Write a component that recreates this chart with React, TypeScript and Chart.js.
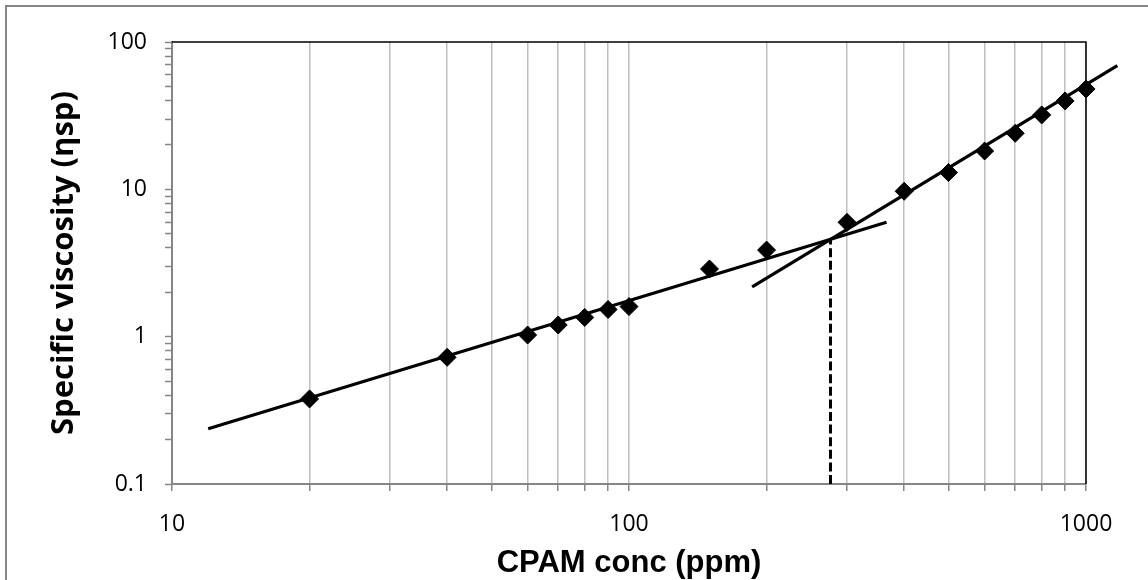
import React, { useEffect, useRef } from "react";
import { Chart, registerables } from "chart.js";

Chart.register(...registerables);

// Measured data
const concentrations = [20, 40, 60, 70, 80, 90, 100, 150, 200, 300, 400, 500, 600, 700, 800, 900, 1000];
const viscosities = [0.378, 0.724, 1.026, 1.2, 1.35, 1.53, 1.6, 2.88, 3.87, 5.97, 9.7, 13.0, 18.2, 24.0, 32.0, 39.8, 48.0];

// Fitted lines (dilute / semi-dilute regimes) and critical concentration marker
const fitLowX = [12, 366];
const fitLowY = [0.237, 5.97];
const fitHighX = [186, 1171];
const fitHighY = [2.18, 69];
const critX = [276, 276];
const critY = [0.1, 4.58];

// Axis ticks
const xTickValues = [10, 20, 30, 40, 50, 60, 70, 80, 90, 100, 200, 300, 400, 500, 600, 700, 800, 900, 1000];
const xTickLabels = ["10", "100", "1000"];
const yTickValues = [0.1, 0.2, 0.3, 0.4, 0.5, 0.6, 0.7, 0.8, 0.9, 1, 2, 3, 4, 5, 6, 7, 8, 9, 10, 20, 30, 40, 50, 60, 70, 80, 90, 100];
const yTickLabels = ["0.1", "1", "10", "100"];

const xTitle = "CPAM conc (ppm)";
const yTitle = "Specific viscosity (ηsp)";

const toXY = (xs: number[], ys: number[]) => xs.map((x, i) => ({ x, y: ys[i] }));

const labelFor = (value: number, labels: string[]) => {
  const s = String(Number(value.toPrecision(6)));
  return labels.includes(s) ? s : "";
};

const framePlugin = {
  id: "frame",
  beforeDraw(chart: any) {
    const { ctx, width, height } = chart;
    ctx.save();
    ctx.fillStyle = "#ffffff";
    ctx.fillRect(0, 0, width, height);
    ctx.strokeStyle = "#868686";
    ctx.lineWidth = 2;
    ctx.strokeRect(6, 6, width + 20, height + 20);
    ctx.restore();
  },
  beforeDatasetsDraw(chart: any) {
    const { ctx, chartArea } = chart;
    const { left, top, right, bottom } = chartArea;
    ctx.save();
    ctx.strokeStyle = "#000000";
    ctx.lineWidth = 1.5;
    ctx.beginPath();
    ctx.moveTo(left, top);
    ctx.lineTo(right, top);
    ctx.lineTo(right, bottom);
    ctx.stroke();
    ctx.restore();
  },
};

export default function App() {
  const canvasRef = useRef<HTMLCanvasElement | null>(null);

  useEffect(() => {
    const canvas = canvasRef.current;
    if (!canvas) return;
    const chart = new Chart(canvas, {
      type: "scatter",
      data: {
        datasets: [
          {
            label: "fitLow",
            data: toXY(fitLowX, fitLowY),
            showLine: true,
            borderColor: "#000",
            borderWidth: 3.2,
            pointRadius: 0,
            clip: false as any,
            order: 2,
          },
          {
            label: "fitHigh",
            data: toXY(fitHighX, fitHighY),
            showLine: true,
            borderColor: "#000",
            borderWidth: 3.2,
            pointRadius: 0,
            clip: false as any,
            order: 2,
          },
          {
            label: "crit",
            data: toXY(critX, critY),
            showLine: true,
            borderColor: "#000",
            borderWidth: 3,
            borderDash: [9, 3.6],
            pointRadius: 0,
            order: 3,
          },
          {
            label: "data",
            data: toXY(concentrations, viscosities),
            showLine: false,
            pointStyle: "rectRot",
            pointRadius: 9,
            pointBorderWidth: 1,
            backgroundColor: "#000",
            borderColor: "#000",
            clip: false as any,
            order: 1,
          },
        ],
      },
      options: {
        responsive: false,
        animation: false,
        devicePixelRatio: 1,
        layout: { padding: { left: 0, right: 62, top: 42, bottom: 0 } },
        plugins: {
          legend: { display: false },
          tooltip: { enabled: false },
        },
        scales: {
          x: {
            type: "logarithmic",
            min: 10,
            max: 1000,
            afterBuildTicks: (scale: any) => {
              scale.ticks = xTickValues.map((v) => ({ value: v }));
            },
            afterFit: (scale: any) => {
              scale.height = 96;
            },
            ticks: {
              autoSkip: false,
              maxRotation: 0,
              padding: 20,
              color: "#000",
              font: { family: "'Open Sans'", size: 23 },
              callback: (value: any) => labelFor(Number(value), xTickLabels),
            },
            grid: {
              color: "#bfbfbf",
              lineWidth: 1.5,
              drawTicks: true,
              tickLength: 7,
              tickColor: "#868686",
              tickWidth: 1.5,
            },
            border: { color: "#868686", width: 2 },
            title: {
              display: true,
              text: xTitle,
              color: "#000",
              font: { family: "'Liberation Sans'", size: 31, weight: "bold", lineHeight: 1 },
              padding: { top: 0, bottom: 1.5 },
            },
          },
          y: {
            type: "logarithmic",
            min: 0.1,
            max: 100,
            afterBuildTicks: (scale: any) => {
              scale.ticks = yTickValues.map((v) => ({ value: v }));
            },
            afterFit: (scale: any) => {
              scale.width = 172;
            },
            ticks: {
              autoSkip: false,
              padding: 18,
              color: "#000",
              font: { family: "'Open Sans'", size: 23 },
              callback: (value: any) => labelFor(Number(value), yTickLabels),
            },
            grid: {
              drawOnChartArea: false,
              drawTicks: true,
              tickLength: 7,
              tickColor: "#868686",
              tickWidth: 1.5,
            },
            border: { color: "#868686", width: 2 },
            title: {
              display: true,
              text: yTitle,
              color: "#000",
              font: { family: "'Open Sans'", size: 31, weight: "bold", lineHeight: 1 },
              padding: { top: 49, bottom: 0 },
            },
          },
        },
      },
      plugins: [framePlugin],
    } as any);
    return () => chart.destroy();
  }, []);

  return (
    <div style={{ position: "fixed", left: 0, top: 0, width: 1148, height: 580, background: "#fff" }}>
      <canvas ref={canvasRef} width={1148} height={580} style={{ display: "block" }} />
    </div>
  );
}
